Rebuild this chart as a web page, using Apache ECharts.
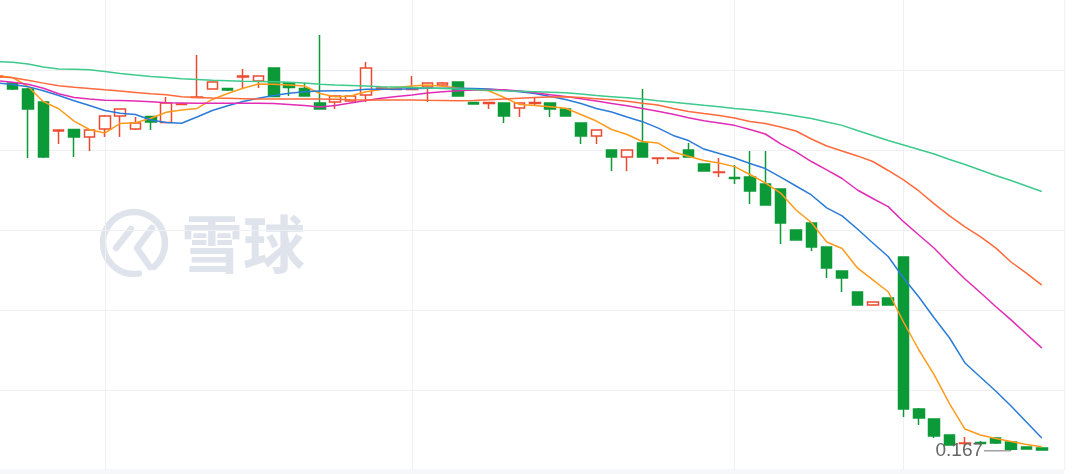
<!DOCTYPE html>
<html><head><meta charset="utf-8">
<script src="https://cdn.jsdelivr.net/npm/echarts@6/dist/echarts.min.js"></script>
<style>html,body{margin:0;padding:0;background:#fff}#c{width:1080px;height:474px}</style>
</head><body><div id="c"></div>
<script>
// trading-day slots (last slot is empty padding on the right)
const categories = Array.from({length: 70}, (_, i) => 'D' + (i + 1));
// [open, close, low, high]
const ohlc = [
 [0.4006,0.4013,0.3994,0.4025],[0.3969,0.3931,0.3925,0.3975],[0.3931,0.3806,0.3500,0.3938],[0.3850,0.3506,0.3500,0.3856],
 [0.3669,0.3675,0.3588,0.3675],[0.3678,0.3631,0.3506,0.3681],[0.3631,0.3675,0.3544,0.3675],[0.3681,0.3763,0.3631,0.3769],
 [0.3763,0.3806,0.3631,0.3806],[0.3681,0.3719,0.3675,0.3756],[0.3759,0.3725,0.3675,0.3763],[0.3722,0.3844,0.3719,0.3881],
 [0.3835,0.3838,0.3831,0.3844],[0.3878,0.3881,0.3875,0.4144],[0.3931,0.3975,0.3931,0.3975],[0.3934,0.3925,0.3919,0.3938],
 [0.4006,0.4013,0.3938,0.4056],[0.3981,0.4013,0.3938,0.4013],[0.4063,0.3884,0.3884,0.4063],[0.3969,0.3941,0.3888,0.3975],
 [0.3934,0.3888,0.3888,0.3969],[0.3844,0.3806,0.3806,0.4269],[0.3850,0.3888,0.3806,0.3888],[0.3856,0.3888,0.3856,0.3888],
 [0.3894,0.4063,0.3850,0.4100],[0.3935,0.3938,0.3931,0.3940],[0.3928,0.3931,0.3925,0.3934],[0.3928,0.3931,0.3925,0.4013],
 [0.3944,0.3969,0.3850,0.3969],[0.3956,0.3969,0.3950,0.3975],[0.3975,0.3888,0.3888,0.3975],[0.3847,0.3838,0.3838,0.3850],
 [0.3841,0.3847,0.3806,0.3850],[0.3844,0.3763,0.3719,0.3844],[0.3813,0.3844,0.3756,0.3844],[0.3841,0.3847,0.3825,0.3875],
 [0.3844,0.3806,0.3756,0.3844],[0.3806,0.3763,0.3763,0.3806],[0.3719,0.3638,0.3588,0.3719],[0.3638,0.3675,0.3588,0.3675],
 [0.3550,0.3506,0.3419,0.3550],[0.3506,0.3550,0.3419,0.3550],[0.3594,0.3506,0.3506,0.3931],[0.3497,0.3500,0.3463,0.3503],
 [0.3497,0.3500,0.3497,0.3500],[0.3550,0.3506,0.3506,0.3594],[0.3463,0.3419,0.3419,0.3463],[0.3409,0.3413,0.3381,0.3500],
 [0.3378,0.3372,0.3338,0.3456],[0.3381,0.3294,0.3213,0.3544],[0.3338,0.3206,0.3206,0.3544],[0.3306,0.3094,0.2963,0.3306],
 [0.3050,0.2988,0.2988,0.3050],[0.3094,0.2944,0.2919,0.3094],[0.2944,0.2813,0.2750,0.2944],[0.2794,0.2750,0.2663,0.2794],
 [0.2663,0.2581,0.2581,0.2663],[0.2581,0.2600,0.2581,0.2600],[0.2625,0.2581,0.2581,0.2625],[0.2881,0.1931,0.1881,0.2881],
 [0.1931,0.1875,0.1831,0.1938],[0.1869,0.1763,0.1750,0.1869],[0.1769,0.1706,0.1706,0.1769],[0.1716,0.1719,0.1700,0.1756],
 [0.1722,0.1716,0.1700,0.1731],[0.1750,0.1719,0.1713,0.1750],[0.1725,0.1680,0.1670,0.1725],[0.1694,0.1681,0.1681,0.1694],
 [0.1688,0.1675,0.1675,0.1688]
];
const ma5 = [0.4014,0.4003,0.3947,0.3852,0.3808,0.3731,0.3678,0.3656,0.3716,0.3720,
 0.3748,0.3786,0.3800,0.3810,0.3866,0.3903,0.3936,0.3963,0.3961,0.3956,
 0.3950,0.3903,0.3883,0.3888,0.3914,0.3928,0.3941,0.3950,0.3956,0.3948,
 0.3938,0.3928,0.3920,0.3878,0.3834,0.3828,0.3821,0.3811,0.3772,0.3731,
 0.3678,0.3647,0.3603,0.3594,0.3538,0.3511,0.3484,0.3469,0.3446,0.3397,
 0.3344,0.3281,0.3175,0.3097,0.2975,0.2934,0.2813,0.2738,0.2664,0.2475,
 0.2300,0.2144,0.1963,0.1806,0.1769,0.1747,0.1728,0.1710,0.1696];
const ma10 = [0.3969,0.3959,0.3946,0.3920,0.3891,0.3858,0.3828,0.3797,0.3780,0.3772,
 0.3738,0.3722,0.3717,0.3756,0.3797,0.3826,0.3853,0.3873,0.3890,0.3904,
 0.3914,0.3918,0.3921,0.3921,0.3929,0.3929,0.3929,0.3933,0.3936,0.3936,
 0.3936,0.3934,0.3931,0.3924,0.3914,0.3903,0.3884,0.3866,0.3841,0.3809,
 0.3788,0.3756,0.3727,0.3688,0.3641,0.3609,0.3556,0.3528,0.3500,0.3466,
 0.3434,0.3381,0.3325,0.3269,0.3188,0.3138,0.3056,0.2969,0.2884,0.2750,
 0.2631,0.2500,0.2375,0.2219,0.2131,0.2044,0.1950,0.1850,0.1750];
const ma20 = [0.3983,0.3974,0.3961,0.3936,0.3902,0.3878,0.3869,0.3861,0.3859,0.3856,
 0.3851,0.3846,0.3844,0.3842,0.3842,0.3842,0.3842,0.3842,0.3840,0.3835,
 0.3828,0.3819,0.3828,0.3844,0.3859,0.3873,0.3884,0.3894,0.3906,0.3914,
 0.3921,0.3925,0.3928,0.3927,0.3918,0.3908,0.3896,0.3884,0.3871,0.3856,
 0.3841,0.3826,0.3809,0.3792,0.3773,0.3751,0.3733,0.3719,0.3704,0.3678,
 0.3650,0.3588,0.3538,0.3478,0.3426,0.3372,0.3300,0.3247,0.3196,0.3102,
 0.3019,0.2936,0.2838,0.2744,0.2659,0.2572,0.2488,0.2400,0.2313];
const ma30 = [0.4009,0.4001,0.3986,0.3968,0.3952,0.3942,0.3934,0.3926,0.3919,0.3910,
 0.3901,0.3895,0.3883,0.3878,0.3875,0.3873,0.3871,0.3869,0.3869,0.3869,
 0.3869,0.3868,0.3867,0.3864,0.3863,0.3863,0.3863,0.3863,0.3861,0.3860,
 0.3858,0.3860,0.3864,0.3869,0.3874,0.3878,0.3881,0.3883,0.3878,0.3871,
 0.3864,0.3854,0.3842,0.3831,0.3809,0.3791,0.3778,0.3766,0.3750,0.3728,
 0.3716,0.3694,0.3669,0.3619,0.3575,0.3544,0.3513,0.3478,0.3422,0.3363,
 0.3294,0.3213,0.3138,0.3069,0.3009,0.2938,0.2850,0.2781,0.2706];
const ma60 = [0.4103,0.4099,0.4088,0.4069,0.4056,0.4054,0.4051,0.4041,0.4028,0.4018,
 0.4009,0.4003,0.3996,0.3991,0.3986,0.3983,0.3980,0.3978,0.3976,0.3973,
 0.3969,0.3961,0.3956,0.3953,0.3950,0.3946,0.3943,0.3940,0.3937,0.3934,
 0.3931,0.3928,0.3924,0.3920,0.3917,0.3914,0.3911,0.3908,0.3900,0.3890,
 0.3883,0.3876,0.3868,0.3858,0.3849,0.3839,0.3829,0.3820,0.3810,0.3801,
 0.3791,0.3778,0.3763,0.3747,0.3725,0.3704,0.3672,0.3641,0.3609,0.3581,
 0.3553,0.3525,0.3491,0.3459,0.3425,0.3391,0.3359,0.3325,0.3291];
// category slots that carry a vertical guide line
const guideSlots = [7, 27, 48, 59];

const UP = '#ea4a2f', DOWN = '#0b9a37', GRIDC = '#eef0f3';
const maDefs = [
  {name: 'MA5', data: ma5, color: '#ff9a1c'},
  {name: 'MA10', data: ma10, color: '#2b7bd8'},
  {name: 'MA20', data: ma20, color: '#e22cb6'},
  {name: 'MA30', data: ma30, color: '#ff6a3b'},
  {name: 'MA60', data: ma60, color: '#3dca8c'}
];

const chart = echarts.init(document.getElementById('c'), null, {renderer: 'canvas'});
const wm = '#dfe3ec';
const wmStroke = {stroke: wm, lineWidth: 6.5, fill: null, lineCap: 'round', lineJoin: 'round'};
chart.setOption({
  animation: false,
  backgroundColor: '#fff',
  grid: {left: -10.4, right: 15.2, top: -10, bottom: 4, containLabel: false, outerBoundsMode: 'none',
    show: true, borderColor: GRIDC, borderWidth: 1, backgroundColor: 'transparent'},
  xAxis: {
    type: 'category', data: categories, boundaryGap: true,
    axisLine: {show: false}, axisTick: {show: false}, axisLabel: {show: false}, splitLine: {show: false}
  },
  yAxis: [
    {type: 'value', min: 0.155, max: 0.455, show: false, splitLine: {show: false}},
    {type: 'value', min: 0, max: 6, interval: 1, axisLine: {show: false}, axisTick: {show: false},
      axisLabel: {show: false}, splitLine: {show: true, lineStyle: {color: GRIDC, width: 1}}}
  ],
  graphic: [
    {type: 'group', z: -1, silent: true, children: [
      {type: 'arc', shape: {cx: 134, cy: 243, r: 31, startAngle: Math.PI * 0.45, endAngle: Math.PI * 2.28},
        style: wmStroke},
      {type: 'polyline', shape: {points: [[131, 229], [116, 248]]}, style: wmStroke},
      {type: 'polyline', shape: {points: [[152, 228], [137, 248], [150, 267]]}, style: wmStroke},
      {type: 'text', x: 181, y: 244, style: {text: '雪球', fill: wm, font: 'bold 62px "Noto Sans CJK SC"', verticalAlign: 'middle', align: 'left'}}
    ]},
    {type: 'rect', left: 0, bottom: 0, z: 10, silent: true, shape: {width: 1064, height: 4}, style: {fill: '#f6f7f9'}}
  ],
  series: [
    {
      type: 'candlestick', name: 'K', data: ohlc, barWidth: 11,
      itemStyle: {color: '#ffffff', color0: DOWN, borderColor: UP, borderColor0: DOWN, borderWidth: 1.5},
      markLine: {
        silent: true, z: 1, symbol: ['none', 'none'], label: {show: false},
        lineStyle: {color: GRIDC, width: 1, type: 'solid'},
        emphasis: {disabled: true},
        data: guideSlots.map(s => ({xAxis: s}))
      },
      markPoint: {
        symbol: 'rect', symbolSize: [27, 1.2], symbolOffset: [-13.5, 0], silent: true,
        itemStyle: {color: '#8a8a8a'},
        label: {show: true, position: 'left', distance: 1, color: '#666', fontSize: 19,
          fontFamily: 'Liberation Sans', formatter: (p) => Number(p.value).toFixed(3)},
        data: [{type: 'min', valueDim: 'lowest'}]
      }
    },
    ...maDefs.map(m => ({
      type: 'line', name: m.name, data: m.data, symbol: 'none', smooth: false,
      lineStyle: {color: m.color, width: 1.5}, itemStyle: {color: m.color}
    }))
  ]
});
</script>
</body></html>
